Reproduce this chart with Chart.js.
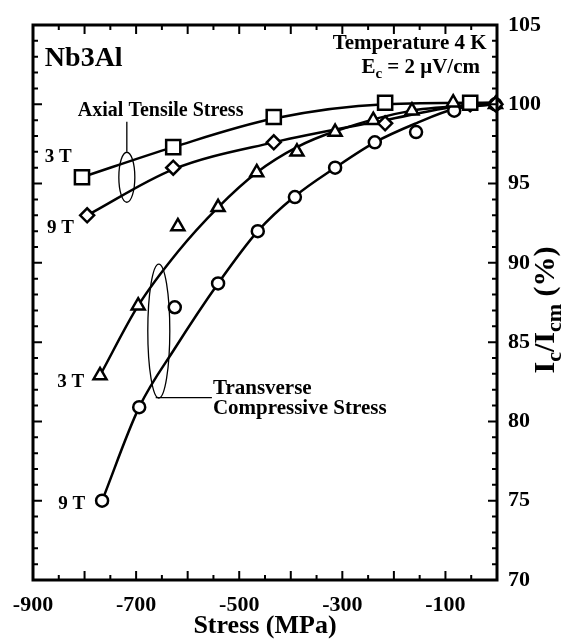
<!DOCTYPE html>
<html>
<head>
<meta charset="utf-8">
<script src="https://cdn.jsdelivr.net/npm/chart.js@4.4.0/dist/chart.umd.min.js"></script>
<style>
  html, body { margin: 0; padding: 0; background: #fff; }
</style>
</head>
<body>
<canvas id="grafico" width="566" height="642"></canvas>
<script>
// Axis ranges
const X_MIN = -900, X_MAX = 0;
const Y_MIN = 70, Y_MAX = 105;
const FONTE = "'Liberation Serif', 'Times New Roman', serif";

// Measured points (stress in MPa, Ic/Icm in %)
const axial3T_x = [-805, -628, -433, -217, -52];
const axial3T_y = [95.4, 97.3, 99.2, 100.1, 100.1];

const axial9T_x = [-795, -628, -433, -217, -52, -3];
const axial9T_y = [93.0, 96.0, 97.6, 98.8, 100.0, 100.0];

const trans3T_x = [-770, -696, -619, -541, -466, -388, -314, -240, -165, -85, -3];
const trans3T_y = [82.9, 87.3, 92.3, 93.5, 95.7, 97.0, 98.25, 99.0, 99.6, 100.1, 100.0];

const trans9T_x = [-766, -694, -625, -541, -464, -392, -314, -237, -157, -83, -52, -3];
const trans9T_y = [75.0, 80.9, 87.2, 88.7, 92.0, 94.15, 96.0, 97.6, 98.25, 99.6, 100.0, 100.0];

// Fitted curves
const fitAxial3T_x = [-805, -628, -433, -217, 0];
const fitAxial3T_y = [95.4, 97.3, 99.1, 100.0, 100.1];

const fitAxial9T_x = [-795, -628, -433, -217, -52, 0];
const fitAxial9T_y = [93.0, 95.9, 97.6, 99.0, 100.0, 100.1];

const fitTrans3T_x = [-770, -696, -619, -541, -466, -388, -314, -165, 0];
const fitTrans3T_y = [82.9, 87.3, 90.7, 93.5, 95.7, 97.3, 98.3, 99.6, 100.0];

const fitTrans9T_x = [-766, -694, -625, -541, -464, -392, -314, -237, -157, -83, 0];
const fitTrans9T_y = [75.0, 80.9, 84.6, 88.7, 92.0, 94.2, 96.0, 97.6, 98.8, 99.7, 100.0];

function pontos(xs, ys) {
    return xs.map((x, i) => ({ x: x, y: ys[i] }));
}

function serieMedida(xs, ys, estilo, raio) {
    return {
        data: pontos(xs, ys),
        showLine: false,
        pointStyle: estilo,
        pointRadius: raio,
        pointHoverRadius: raio,
        pointBorderWidth: 2.5,
        pointBorderColor: '#000',
        pointBackgroundColor: '#fff',
        clip: false,
        order: 0
    };
}

function serieCurva(xs, ys) {
    return {
        data: pontos(xs, ys),
        showLine: true,
        borderColor: '#000',
        borderWidth: 2.5,
        pointRadius: 0,
        cubicInterpolationMode: 'monotone',
        order: 1
    };
}

// Text with subscripts: partes = [[texto, subscrito?], ...]
function textoRico(ctx, partes, x, y, tam, alinhar) {
    const tamSub = Math.round(tam * 0.72);
    let largura = 0;
    partes.forEach(([s, sub]) => {
        ctx.font = `bold ${sub ? tamSub : tam}px ${FONTE}`;
        largura += ctx.measureText(s).width;
    });
    let cx = alinhar === 'right' ? x - largura : alinhar === 'center' ? x - largura / 2 : x;
    ctx.textAlign = 'left';
    ctx.textBaseline = 'middle';
    partes.forEach(([s, sub]) => {
        ctx.font = `bold ${sub ? tamSub : tam}px ${FONTE}`;
        ctx.fillText(s, cx, sub ? y + tam * 0.32 : y);
        cx += ctx.measureText(s).width;
    });
}

const decoracao = {
    id: 'decoracao',
    afterDatasetsDraw(chart) {
        const { ctx, chartArea: a, scales: { x, y } } = chart;
        const px = v => x.getPixelForValue(v);
        const py = v => y.getPixelForValue(v);
        ctx.save();
        ctx.strokeStyle = '#000';
        ctx.fillStyle = '#000';

        // frame
        ctx.lineWidth = 3;
        ctx.strokeRect(a.left, a.top, a.right - a.left, a.bottom - a.top);

        // inward ticks
        ctx.lineWidth = 2;
        ctx.beginPath();
        x.ticks.forEach(t => {
            const p = px(t.value);
            const len = t.value % 100 === 0 ? 9 : 5;
            ctx.moveTo(p, a.bottom); ctx.lineTo(p, a.bottom - len);
            ctx.moveTo(p, a.top); ctx.lineTo(p, a.top + len);
        });
        y.ticks.forEach(t => {
            const p = py(t.value);
            const len = t.value % 5 === 0 ? 9 : 5;
            ctx.moveTo(a.left, p); ctx.lineTo(a.left + len, p);
            ctx.moveTo(a.right, p); ctx.lineTo(a.right - len, p);
        });
        ctx.stroke();

        // ellipses grouping the curves
        ctx.lineWidth = 1.3;
        ctx.beginPath();
        ctx.ellipse(px(-718), py(95.4), 8, 25, 0, 0, Math.PI * 2);
        ctx.stroke();
        ctx.beginPath();
        ctx.ellipse(px(-656), py(85.7), 11, 67, 0, 0, Math.PI * 2);
        ctx.stroke();

        // leader lines
        ctx.beginPath();
        ctx.moveTo(px(-718), py(97.0));
        ctx.lineTo(px(-718), py(98.9));
        ctx.moveTo(px(-662), py(81.5));
        ctx.lineTo(px(-553), py(81.5));
        ctx.stroke();

        // labels
        textoRico(ctx, [['Nb3Al', false]], px(-877), py(102.9), 28, 'left');
        textoRico(ctx, [['Temperature 4 K', false]], px(-20), py(103.8), 21, 'right');
        textoRico(ctx, [['E', false], ['c', true], [' = 2 \u03bcV/cm', false]], px(-33), py(102.3), 21, 'right');
        textoRico(ctx, [['Axial Tensile Stress', false]], px(-813), py(99.6), 20, 'left');
        textoRico(ctx, [['3 T', false]], px(-877), py(96.7), 19, 'left');
        textoRico(ctx, [['9 T', false]], px(-873), py(92.2), 19, 'left');
        textoRico(ctx, [['3 T', false]], px(-853), py(82.5), 19, 'left');
        textoRico(ctx, [['9 T', false]], px(-851), py(74.8), 19, 'left');
        textoRico(ctx, [['Transverse', false]], px(-551), py(82.1), 21, 'left');
        textoRico(ctx, [['Compressive Stress', false]], px(-551), py(80.8), 21, 'left');

        // right axis title
        ctx.translate(546, 310);
        ctx.rotate(-Math.PI / 2);
        textoRico(ctx, [['I', false], ['c', true], ['/I', false], ['cm', true], [' (%)', false]], 0, 0, 30, 'center');
        ctx.restore();
    }
};

document.addEventListener('DOMContentLoaded', function() {
    const ctx = document.getElementById('grafico').getContext('2d');

    new Chart(ctx, {
        type: 'scatter',
        data: {
            datasets: [
                serieMedida(axial3T_x, axial3T_y, 'rect', 10),
                serieMedida(axial9T_x, axial9T_y, 'rectRot', 7),
                serieMedida(trans3T_x, trans3T_y, 'triangle', 7.5),
                serieMedida(trans9T_x, trans9T_y, 'circle', 6),
                serieCurva(fitAxial3T_x, fitAxial3T_y),
                serieCurva(fitAxial9T_x, fitAxial9T_y),
                serieCurva(fitTrans3T_x, fitTrans3T_y),
                serieCurva(fitTrans9T_x, fitTrans9T_y)
            ]
        },
        options: {
            responsive: false,
            animation: false,
            devicePixelRatio: 1,
            layout: { padding: { top: 25, left: 33, right: 0, bottom: 0 } },
            scales: {
                x: {
                    type: 'linear',
                    position: 'bottom',
                    min: X_MIN,
                    max: X_MAX,
                    afterFit: s => { s.height = 62; },
                    grid: { display: false, drawTicks: false },
                    border: { display: false },
                    ticks: {
                        stepSize: 50,
                        autoSkip: false,
                        maxRotation: 0,
                        padding: 12,
                        color: '#000',
                        font: { family: FONTE, size: 22, weight: 'bold' },
                        callback: v => ((v + 900) % 200 === 0 ? v : '')
                    },
                    title: {
                        display: true,
                        text: 'Stress (MPa)',
                        color: '#000',
                        padding: 0,
                        font: { family: FONTE, size: 26, weight: 'bold' }
                    }
                },
                y: {
                    type: 'linear',
                    position: 'right',
                    min: Y_MIN,
                    max: Y_MAX,
                    afterFit: s => { s.width = 69; },
                    grid: { display: false, drawTicks: false },
                    border: { display: false },
                    ticks: {
                        stepSize: 1,
                        autoSkip: false,
                        padding: 11,
                        color: '#000',
                        font: { family: FONTE, size: 22, weight: 'bold' },
                        callback: v => (v % 5 === 0 ? v : '')
                    }
                }
            },
            plugins: {
                legend: { display: false },
                tooltip: { enabled: false }
            }
        },
        plugins: [decoracao]
    });
});
</script>
</body>
</html>
